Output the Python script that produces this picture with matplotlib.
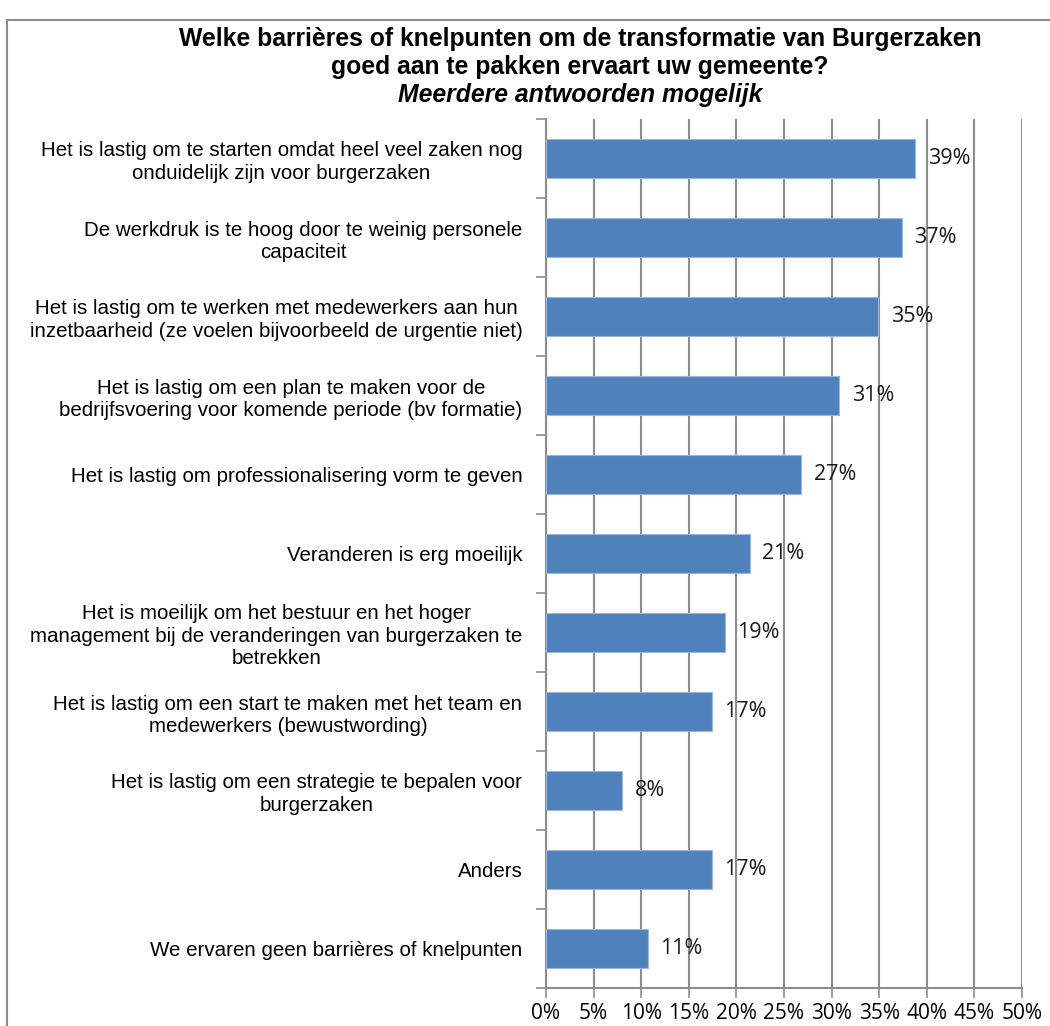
import matplotlib
matplotlib.use("Agg")
import matplotlib.pyplot as plt
from matplotlib.patches import Rectangle
from matplotlib.ticker import FuncFormatter, FixedLocator

categories = [
    "Het is lastig om te starten omdat heel veel zaken nog\nonduidelijk zijn voor burgerzaken",
    "De werkdruk is te hoog door te weinig personele\ncapaciteit",
    "Het is lastig om te werken met medewerkers aan hun\ninzetbaarheid (ze voelen bijvoorbeeld de urgentie niet)",
    "Het is lastig om een plan te maken voor de\nbedrijfsvoering voor komende periode (bv formatie)",
    "Het is lastig om professionalisering vorm te geven",
    "Veranderen is erg moeilijk",
    "Het is moeilijk om het bestuur en het hoger\nmanagement bij de veranderingen van burgerzaken te\nbetrekken",
    "Het is lastig om een start te maken met het team en\nmedewerkers (bewustwording)",
    "Het is lastig om een strategie te bepalen voor\nburgerzaken",
    "Anders",
    "We ervaren geen barrières of knelpunten",
]
values = [38.8, 37.4, 34.9, 30.8, 26.8, 21.4, 18.8, 17.4, 8.0, 17.4, 10.7]
value_labels = ["39%", "37%", "35%", "31%", "27%", "21%", "19%", "17%", "8%", "17%", "11%"]
x_ticks = [0, 5, 10, 15, 20, 25, 30, 35, 40, 45, 50]

title_lines = ["Welke barrières of knelpunten om de transformatie van Burgerzaken",
               "goed aan te pakken ervaart uw gemeente?"]
subtitle = "Meerdere antwoorden mogelijk"

W, H = 1050, 1026
fig = plt.figure(figsize=(W / 100, H / 100), dpi=100)
ax = fig.add_axes([546 / W, 1 - 988 / H, (1022 - 546) / W, (988 - 119) / H])

n = len(categories)
ypos = list(range(n))
ax.barh(ypos, values, height=0.5, color="#4F81BD", edgecolor="#9BB7D9", linewidth=0.8, zorder=3)
ax.set_ylim(n - 0.5, -0.5)
ax.set_xlim(0, 50)

ax.xaxis.set_major_locator(FixedLocator(x_ticks))
ax.xaxis.set_major_formatter(FuncFormatter(lambda v, p: f"{int(v)}%"))
ax.grid(axis="x", color="#8C8C8C", linewidth=1.5, zorder=0)
ax.set_axisbelow(True)

ax.set_yticks(ypos)
ax.set_yticklabels(categories, family="Liberation Sans", fontsize=14.8,
                   multialignment="center", linespacing=1.22)
ax.yaxis.set_minor_locator(FixedLocator([i - 0.5 for i in range(n + 1)]))
ax.tick_params(axis="y", which="major", length=0, pad=17)
ax.tick_params(axis="y", which="minor", length=7, width=1.2, color="#8C8C8C")
ax.tick_params(axis="x", which="major", length=7, width=1.2, color="#8C8C8C",
               labelsize=15, pad=4)
for lab in ax.get_xticklabels():
    lab.set_family("Open Sans")

for s in ["top", "right"]:
    ax.spines[s].set_visible(False)
for s in ["left", "bottom"]:
    ax.spines[s].set_color("#8C8C8C")
    ax.spines[s].set_linewidth(1.5)

for y, v, lab in zip(ypos, values, value_labels):
    ax.text(v + 1.3, y, lab, va="center", ha="left", fontsize=15.5,
            family="Open Sans", color="#1a1a1a", zorder=4)

cx = 580 / W
fig.text(cx, 1 - 39 / H, title_lines[0], ha="center", va="center",
         fontsize=17.8, fontweight="bold", family="Liberation Sans")
fig.text(cx, 1 - 67 / H, title_lines[1], ha="center", va="center",
         fontsize=17.8, fontweight="bold", family="Liberation Sans")
fig.text(cx, 1 - 95 / H, subtitle, ha="center", va="center",
         fontsize=17.8, fontweight="bold", style="italic", family="Liberation Sans")

fig.patches.append(Rectangle((7 / W, -0.1), 1.2, 1 - 20 / H + 0.1, transform=fig.transFigure,
                             fill=False, edgecolor="#8C8C8C", linewidth=1.5))

fig.savefig("out.png", dpi=100)
